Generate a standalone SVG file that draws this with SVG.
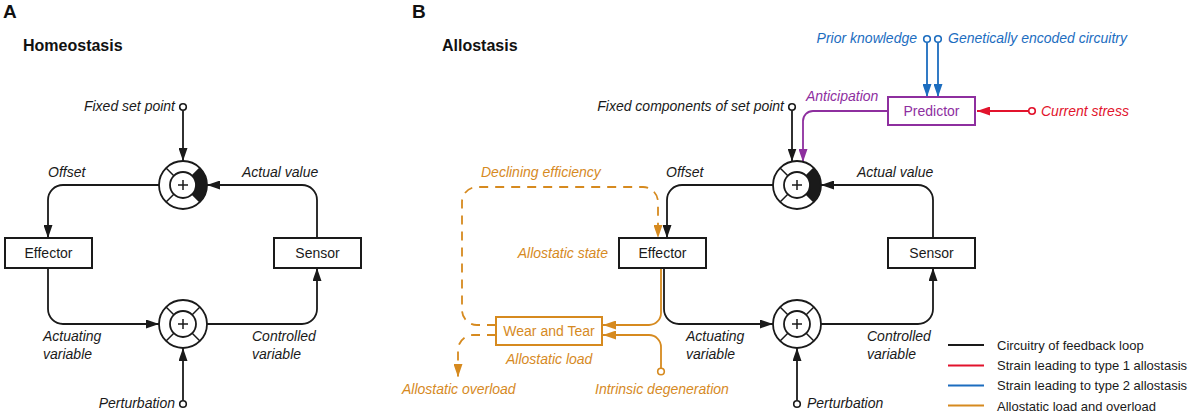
<svg xmlns="http://www.w3.org/2000/svg" width="1192" height="415" viewBox="0 0 1192 415">
<defs>
<style>
text{font-family:"Liberation Sans",Arial,sans-serif;}
.lab{font-size:14px;font-style:italic;fill:#1a1a1a;}
.box{font-size:14px;fill:#1a1a1a;text-anchor:middle;}
.ttl{font-size:16px;font-weight:bold;fill:#111;}
.pnl{font-size:19px;font-weight:bold;fill:#111;}
.leg{font-size:13px;fill:#1a1a1a;}
.org{fill:#D68A1F;}
.blu{fill:#1C6DBF;}
.red{fill:#E2132C;}
.pur{fill:#8E2F9F;}
.k{stroke:#1a1a1a;fill:none;stroke-width:1.8;}
.ko{stroke:#D68A1F;fill:none;stroke-width:1.8;}
.kd{stroke:#D68A1F;fill:none;stroke-width:1.8;stroke-dasharray:9 7;}
.kb{stroke:#1C6DBF;fill:none;stroke-width:1.8;}
.kr{stroke:#E2132C;fill:none;stroke-width:1.8;}
.kp{stroke:#8E2F9F;fill:none;stroke-width:1.8;}
.rect{fill:#fff;stroke:#1a1a1a;stroke-width:2;}
.dot{fill:#fff;stroke-width:1.6;}
</style>
<marker id="ak" markerUnits="userSpaceOnUse" markerWidth="13" markerHeight="9" refX="13" refY="4.5" orient="auto"><path d="M0,0 L13,4.5 L0,9 z" fill="#1a1a1a"/></marker>
<marker id="ao" markerUnits="userSpaceOnUse" markerWidth="13" markerHeight="9" refX="13" refY="4.5" orient="auto"><path d="M0,0 L13,4.5 L0,9 z" fill="#D68A1F"/></marker>
<marker id="ab" markerUnits="userSpaceOnUse" markerWidth="13" markerHeight="9" refX="13" refY="4.5" orient="auto"><path d="M0,0 L13,4.5 L0,9 z" fill="#1C6DBF"/></marker>
<marker id="ar" markerUnits="userSpaceOnUse" markerWidth="13" markerHeight="9" refX="13" refY="4.5" orient="auto"><path d="M0,0 L13,4.5 L0,9 z" fill="#E2132C"/></marker>
<marker id="ap" markerUnits="userSpaceOnUse" markerWidth="13" markerHeight="9" refX="13" refY="4.5" orient="auto"><path d="M0,0 L13,4.5 L0,9 z" fill="#8E2F9F"/></marker>
<g id="sumFilled">
<path d="M9.19,-9.19 A13,13 0 0 1 9.19,9.19 L16.97,16.97 A24,24 0 0 0 16.97,-16.97 z" fill="#1a1a1a"/>
<circle r="24" fill="none" stroke="#1a1a1a" stroke-width="1.8"/>
<circle r="13" fill="#fff" stroke="#1a1a1a" stroke-width="1.8"/>
<path d="M9.19,-9.19 L16.97,-16.97 M-9.19,-9.19 L-16.97,-16.97 M-9.19,9.19 L-16.97,16.97 M9.19,9.19 L16.97,16.97 M-5,0 H5 M0,-5 V5" stroke="#1a1a1a" stroke-width="1.5" fill="none"/>
</g>
<g id="sumPlain">
<circle r="24" fill="#fff" stroke="#1a1a1a" stroke-width="1.8"/>
<circle r="13" fill="#fff" stroke="#1a1a1a" stroke-width="1.8"/>
<path d="M9.19,-9.19 L16.97,-16.97 M-9.19,-9.19 L-16.97,-16.97 M-9.19,9.19 L-16.97,16.97 M9.19,9.19 L16.97,16.97 M-5,0 H5 M0,-5 V5" stroke="#1a1a1a" stroke-width="1.5" fill="none"/>
</g>
</defs>
<rect width="1192" height="415" fill="#fff"/>

<!-- Panel titles -->
<text class="pnl" x="3" y="18">A</text>
<text class="ttl" x="23" y="51">Homeostasis</text>
<text class="pnl" x="412" y="18">B</text>
<text class="ttl" x="442" y="51">Allostasis</text>

<!-- connectors -->
<g id="connectors">
<!-- Panel A -->
<path class="k" d="M183,110.5 V161" marker-end="url(#ak)"/>
<path class="k" d="M159,185 H63 A15,15 0 0 0 48,200 V238" marker-end="url(#ak)"/>
<path class="k" d="M317,238 V200 A15,15 0 0 0 302,185 H207" marker-end="url(#ak)"/>
<path class="k" d="M48,268 V309 A15,15 0 0 0 63,324 H159" marker-end="url(#ak)"/>
<path class="k" d="M207,324 H302 A15,15 0 0 0 317,309 V268" marker-end="url(#ak)"/>
<path class="k" d="M183,400.5 V348" marker-end="url(#ak)"/>
<!-- Panel B black -->
<path class="k" d="M792,110.5 V161.5" marker-end="url(#ak)"/>
<path class="k" d="M773,185 H682 A15,15 0 0 0 667,200 V238" marker-end="url(#ak)"/>
<path class="k" d="M933,238 V200 A15,15 0 0 0 918,185 H821" marker-end="url(#ak)"/>
<path class="k" d="M664,268 V309 A15,15 0 0 0 679,324 H773" marker-end="url(#ak)"/>
<path class="k" d="M821,324 H918 A15,15 0 0 0 933,309 V268" marker-end="url(#ak)"/>
<path class="k" d="M797,400.5 V348" marker-end="url(#ak)"/>
<!-- purple -->
<path class="kp" d="M888,111 H813 A10,10 0 0 0 803,121 V162" marker-end="url(#ap)"/>
<!-- blue -->
<path class="kb" d="M927,42.5 V97" marker-end="url(#ab)"/>
<path class="kb" d="M938,42.5 V97" marker-end="url(#ab)"/>
<!-- red -->
<path class="kr" d="M1028.5,111 H977" marker-end="url(#ar)"/>
<!-- orange -->
<path class="ko" d="M661,268 V313 A12,12 0 0 1 649,325 H603" marker-end="url(#ao)"/>
<path class="ko" d="M661,368 V347 A12,12 0 0 0 649,335 H603" marker-end="url(#ao)"/>
<path class="kd" d="M496,325 H477 A15,15 0 0 1 462,310 V202 A15,15 0 0 1 477,187 H643 A15,15 0 0 1 658,202 V238" marker-end="url(#ao)"/>
<path class="kd" d="M496,335 H473 A15,15 0 0 0 458,350 V377" marker-end="url(#ao)"/>
</g>

<!-- Panel A nodes -->
<g id="a-setpoint">
<circle class="dot" cx="183" cy="107" r="3.3" stroke="#1a1a1a"/>
<text class="lab" x="175" y="111" text-anchor="end">Fixed set point</text>
</g>
<g id="a-comparator"><use href="#sumFilled" x="183" y="185"/></g>
<g id="a-effector">
<rect class="rect" x="5" y="238" width="87" height="30"/>
<text class="box" x="48.5" y="258">Effector</text>
</g>
<g id="a-sensor">
<rect class="rect" x="274" y="238" width="87" height="30"/>
<text class="box" x="317.5" y="258">Sensor</text>
</g>
<g id="a-summer"><use href="#sumPlain" x="183" y="324"/></g>
<g id="a-perturbation">
<circle class="dot" cx="183" cy="404" r="3.3" stroke="#1a1a1a"/>
<text class="lab" x="175" y="408" text-anchor="end">Perturbation</text>
</g>
<g id="a-labels">
<text class="lab" x="48" y="177">Offset</text>
<text class="lab" x="242" y="177">Actual value</text>
<text class="lab" x="43" y="341">Actuating</text>
<text class="lab" x="43" y="359">variable</text>
<text class="lab" x="252" y="341">Controlled</text>
<text class="lab" x="252" y="359">variable</text>
</g>

<!-- Panel B nodes -->
<g id="b-setpoint">
<circle class="dot" cx="792" cy="107" r="3.3" stroke="#1a1a1a"/>
<text class="lab" x="784" y="111" text-anchor="end">Fixed components of set point</text>
</g>
<g id="b-comparator"><use href="#sumFilled" x="797" y="185"/></g>
<g id="b-predictor">
<rect x="888" y="97" width="87" height="28" fill="#fff" stroke="#8E2F9F" stroke-width="2"/>
<text class="box pur" x="931.5" y="116" style="fill:#8E2F9F">Predictor</text>
</g>
<g id="b-prior">
<circle class="dot" cx="927" cy="39" r="3.3" stroke="#1C6DBF"/>
<text class="lab blu" x="917" y="43" text-anchor="end" style="fill:#1C6DBF">Prior knowledge</text>
</g>
<g id="b-genetic">
<circle class="dot" cx="938" cy="39" r="3.3" stroke="#1C6DBF"/>
<text class="lab" x="948" y="43" style="fill:#1C6DBF">Genetically encoded circuitry</text>
</g>
<g id="b-stress">
<circle class="dot" cx="1032" cy="111" r="3.3" stroke="#E2132C"/>
<text class="lab" x="1041" y="116" style="fill:#E2132C">Current stress</text>
</g>
<g id="b-effector">
<rect class="rect" x="619" y="238" width="87" height="30"/>
<text class="box" x="662.5" y="258">Effector</text>
</g>
<g id="b-sensor">
<rect class="rect" x="888" y="238" width="87" height="30"/>
<text class="box" x="931.5" y="258">Sensor</text>
</g>
<g id="b-summer"><use href="#sumPlain" x="797" y="324"/></g>
<g id="b-perturbation">
<circle class="dot" cx="797" cy="404" r="3.3" stroke="#1a1a1a"/>
<text class="lab" x="807" y="408">Perturbation</text>
</g>
<g id="b-wear">
<rect x="496" y="317" width="106" height="28" fill="#fff" stroke="#D68A1F" stroke-width="2"/>
<text class="box" x="549" y="336" style="fill:#D68A1F">Wear and Tear</text>
</g>
<g id="b-intrinsic">
<circle class="dot" cx="661" cy="371.5" r="3.3" stroke="#D68A1F"/>
<text class="lab" x="595" y="394" style="fill:#D68A1F">Intrinsic degeneration</text>
</g>
<g id="b-labels">
<text class="lab" x="806" y="101" style="fill:#8E2F9F">Anticipation</text>
<text class="lab" x="481" y="177" style="fill:#D68A1F">Declining efficiency</text>
<text class="lab" x="666" y="177">Offset</text>
<text class="lab" x="857" y="177">Actual value</text>
<text class="lab" x="608" y="258" text-anchor="end" style="fill:#D68A1F">Allostatic state</text>
<text class="lab" x="506" y="364" style="fill:#D68A1F">Allostatic load</text>
<text class="lab" x="402" y="394" style="fill:#D68A1F">Allostatic overload</text>
<text class="lab" x="686" y="341">Actuating</text>
<text class="lab" x="686" y="359">variable</text>
<text class="lab" x="867" y="341">Controlled</text>
<text class="lab" x="867" y="359">variable</text>
</g>

<!-- Legend -->
<g id="legend">
<line x1="948" y1="345" x2="984" y2="345" stroke="#1a1a1a" stroke-width="2"/>
<line x1="948" y1="365.5" x2="984" y2="365.5" stroke="#E2132C" stroke-width="2"/>
<line x1="948" y1="385.5" x2="984" y2="385.5" stroke="#1C6DBF" stroke-width="2"/>
<line x1="948" y1="405.5" x2="984" y2="405.5" stroke="#D68A1F" stroke-width="2"/>
<text class="leg" x="997" y="349.5">Circuitry of feedback loop</text>
<text class="leg" x="997" y="370">Strain leading to type 1 allostasis</text>
<text class="leg" x="997" y="390">Strain leading to type 2 allostasis</text>
<text class="leg" x="997" y="410.5">Allostatic load and overload</text>
</g>
</svg>
